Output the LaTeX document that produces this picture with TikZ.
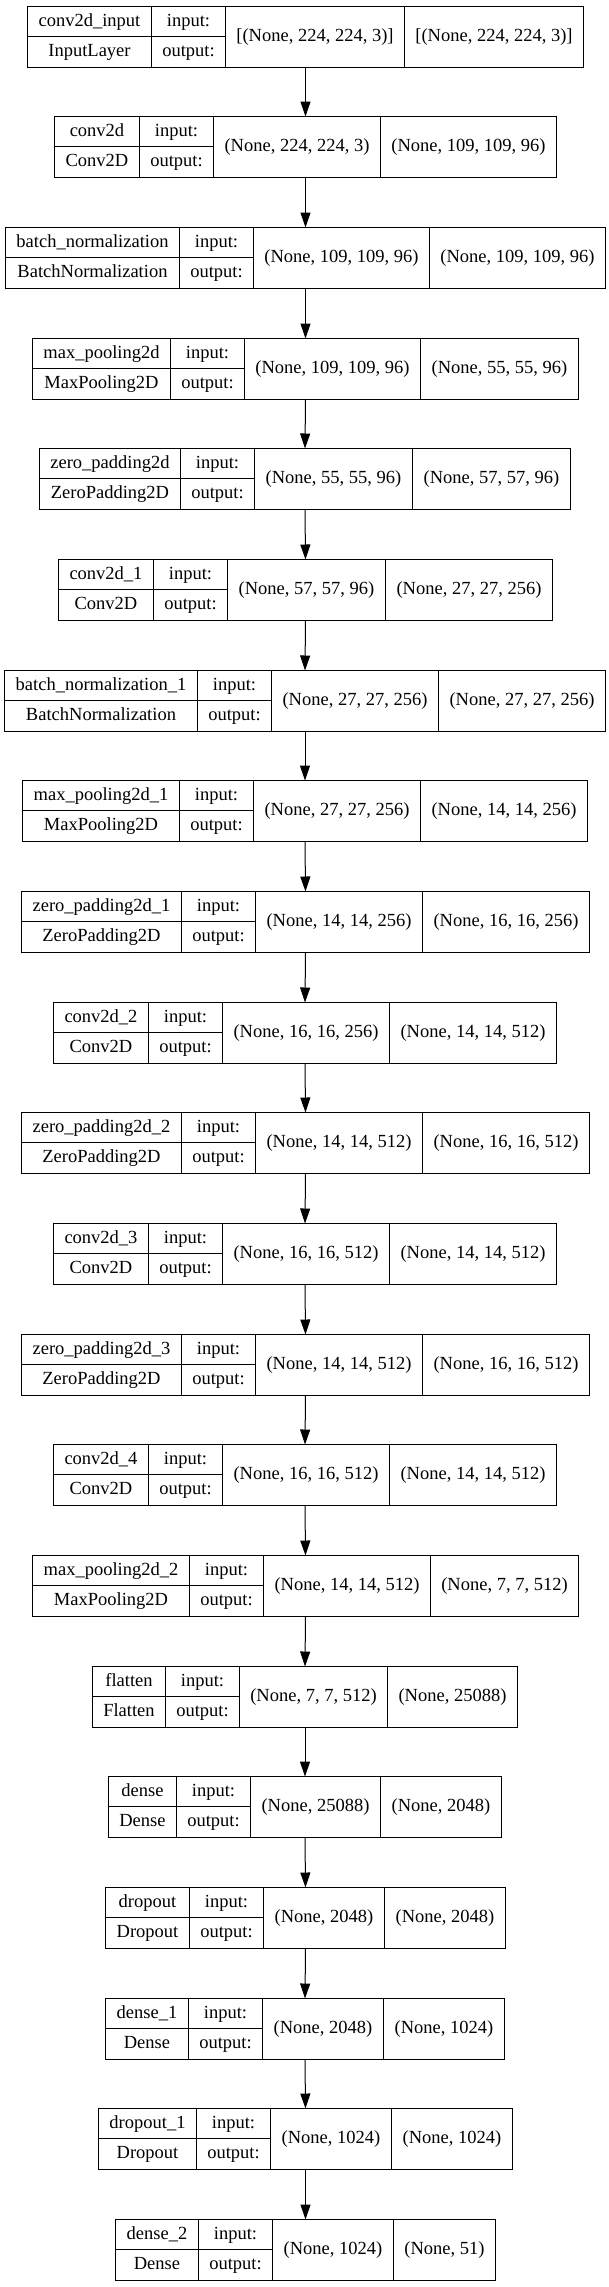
\documentclass[tikz,border=0pt]{standalone}
\usepackage{fontspec}
\setmainfont{Liberation Serif}
\usetikzlibrary{arrows.meta}
\newlength\lwA \newlength\lwB \newlength\lwC \newlength\lwD \newlength\lwT
\newcommand\boxfont{\fontsize{18.5pt}{22pt}\selectfont}
% measuring pass (outside the picture)
\newcommand\measurebox[5]{%
  \settowidth\lwA{\boxfont #2}\settowidth\lwT{\boxfont #3}%
  \ifdim\lwT>\lwA \lwA=\lwT\fi
  \addtolength\lwA{22pt}%
  \settowidth\lwB{\boxfont output:}\addtolength\lwB{22pt}%
  \settowidth\lwC{\boxfont #4}\addtolength\lwC{22pt}%
  \settowidth\lwD{\boxfont #5}\addtolength\lwD{22pt}%
  \expandafter\xdef\csname kbA#1\endcsname{\the\lwA}%
  \expandafter\xdef\csname kbB#1\endcsname{\the\lwB}%
  \expandafter\xdef\csname kbC#1\endcsname{\the\lwC}%
  \expandafter\xdef\csname kbD#1\endcsname{\the\lwD}%
}
% drawing pass (inside the picture)
\newcommand\kerasbox[5]{%
  \lwA=\csname kbA#1\endcsname\relax
  \lwB=\csname kbB#1\endcsname\relax
  \lwC=\csname kbC#1\endcsname\relax
  \lwD=\csname kbD#1\endcsname\relax
  \pgfmathsetmacro\kwa{round(\lwA)}%
  \pgfmathsetmacro\kwb{round(\lwB)}%
  \pgfmathsetmacro\kwc{round(\lwC)}%
  \pgfmathsetmacro\kwd{round(\lwD)}%
  \pgfmathsetmacro\kw{\kwa+\kwb+\kwc+\kwd}%
  \pgfmathsetmacro\kx{round(304.5-\kw/2)+0.5}%
  \pgfmathsetmacro\kxa{\kx+\kwa}%
  \pgfmathsetmacro\kxb{\kxa+\kwb}%
  \pgfmathsetmacro\kxc{\kxb+\kwc}%
  \pgfmathsetmacro\kxm{\kx+\kw/2}%
  \pgfmathsetmacro\ky{round(5.7+#1*110.67)+0.5}%
  \pgfmathsetmacro\kyb{\ky+30}%
  \node[boxshape, minimum width=\kw pt, anchor=north] (L#1) at (\kxm,\ky) {};
  \node[cell, minimum width=\kwa pt, minimum height=30pt, anchor=north west] (L#1-n) at (\kx,\ky) {#2};
  \node[cell, minimum width=\kwa pt, minimum height=31pt, anchor=north west] (L#1-c) at (\kx,\kyb) {#3};
  \node[cell, minimum width=\kwb pt, minimum height=30pt, anchor=north west] (L#1-i) at (\kxa,\ky) {input:};
  \node[cell, minimum width=\kwb pt, minimum height=31pt, anchor=north west] (L#1-o) at (\kxa,\kyb) {output:};
  \node[cell, minimum width=\kwc pt, minimum height=61pt, anchor=north west] (L#1-in) at (\kxb,\ky) {#4};
  \node[cell, minimum width=\kwd pt, minimum height=61pt, anchor=north west] (L#1-out) at (\kxc,\ky) {#5};
}
\newcommand\boxlist{%
\onebox{0}{conv2d\_input}{InputLayer}{[(None, 224, 224, 3)]}{[(None, 224, 224, 3)]}%
\onebox{1}{conv2d}{Conv2D}{(None, 224, 224, 3)}{(None, 109, 109, 96)}%
\onebox{2}{batch\_normalization}{BatchNormalization}{(None, 109, 109, 96)}{(None, 109, 109, 96)}%
\onebox{3}{max\_pooling2d}{MaxPooling2D}{(None, 109, 109, 96)}{(None, 55, 55, 96)}%
\onebox{4}{zero\_padding2d}{ZeroPadding2D}{(None, 55, 55, 96)}{(None, 57, 57, 96)}%
\onebox{5}{conv2d\_1}{Conv2D}{(None, 57, 57, 96)}{(None, 27, 27, 256)}%
\onebox{6}{batch\_normalization\_1}{BatchNormalization}{(None, 27, 27, 256)}{(None, 27, 27, 256)}%
\onebox{7}{max\_pooling2d\_1}{MaxPooling2D}{(None, 27, 27, 256)}{(None, 14, 14, 256)}%
\onebox{8}{zero\_padding2d\_1}{ZeroPadding2D}{(None, 14, 14, 256)}{(None, 16, 16, 256)}%
\onebox{9}{conv2d\_2}{Conv2D}{(None, 16, 16, 256)}{(None, 14, 14, 512)}%
\onebox{10}{zero\_padding2d\_2}{ZeroPadding2D}{(None, 14, 14, 512)}{(None, 16, 16, 512)}%
\onebox{11}{conv2d\_3}{Conv2D}{(None, 16, 16, 512)}{(None, 14, 14, 512)}%
\onebox{12}{zero\_padding2d\_3}{ZeroPadding2D}{(None, 14, 14, 512)}{(None, 16, 16, 512)}%
\onebox{13}{conv2d\_4}{Conv2D}{(None, 16, 16, 512)}{(None, 14, 14, 512)}%
\onebox{14}{max\_pooling2d\_2}{MaxPooling2D}{(None, 14, 14, 512)}{(None, 7, 7, 512)}%
\onebox{15}{flatten}{Flatten}{(None, 7, 7, 512)}{(None, 25088)}%
\onebox{16}{dense}{Dense}{(None, 25088)}{(None, 2048)}%
\onebox{17}{dropout}{Dropout}{(None, 2048)}{(None, 2048)}%
\onebox{18}{dense\_1}{Dense}{(None, 2048)}{(None, 1024)}%
\onebox{19}{dropout\_1}{Dropout}{(None, 1024)}{(None, 1024)}%
\onebox{20}{dense\_2}{Dense}{(None, 1024)}{(None, 51)}%
}
\begin{document}
\let\onebox\measurebox\boxlist
\begin{tikzpicture}[x=1pt,y=-1pt,
  cell/.style={draw=black, line width=1.3pt, inner sep=0pt, outer sep=0pt,
    font=\boxfont, text height=13pt, text depth=3.5pt},
  boxshape/.style={draw=none, inner sep=0pt, outer sep=0pt, minimum height=61pt},
  arr/.style={draw=black, line width=1pt, -{Triangle[length=15pt,width=10pt]}}]
\useasboundingbox (0,0) rectangle (609,2287);
\let\onebox\kerasbox
\boxlist
\foreach \i in {1,...,20}{
  \pgfmathtruncatemacro\j{\i-1}
  \draw[arr] (L\j.south) -- (L\i.north);
}
\end{tikzpicture}
\end{document}
